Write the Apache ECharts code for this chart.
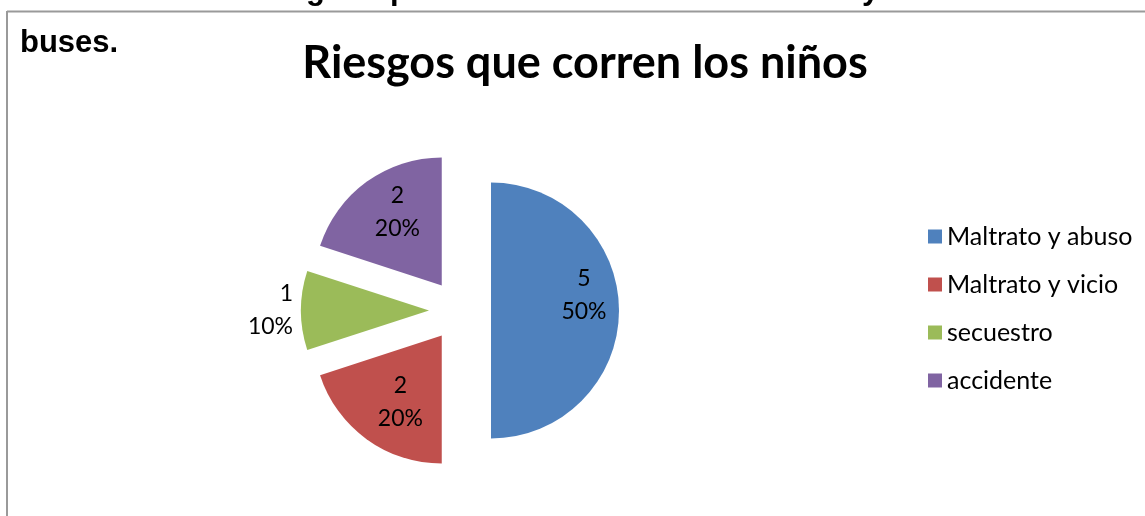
<!DOCTYPE html>
<html><head><meta charset="utf-8">
<script src="https://cdn.jsdelivr.net/npm/echarts@6/dist/echarts.min.js"></script>
<style>html,body{margin:0;padding:0;background:#fff}#c{width:1145px;height:516px}</style>
</head><body><div id="c"></div>
<script>
const categories = ['Maltrato y abuso', 'Maltrato y vicio', 'secuestro', 'accidente'];
const values = [5, 2, 1, 2];
const colors = ['#4F81BD', '#C0504D', '#9BBB59', '#8064A2'];
const titleText = 'Riesgos que corren los niños';

const total = values.reduce((a, b) => a + b, 0);
// per-slice label nudges (Excel "best fit" placement), in pixels
const labelNudge = [[26, -15], [-2, 12], [0, 0], [-5, -19]];
const data = categories.map((n, i) => ({
  name: n, value: values[i], selected: true,
  itemStyle: { color: colors[i] },
  label: i === 2 ? { position: 'outside', distanceToLabelLine: 8 } : { position: 'inside' },
  labelLine: { show: false, length: 0, length2: 0 }
}));

const chart = echarts.init(document.getElementById('c'));
const FONT = 'Lato';
chart.setOption({
  animation: false,
  title: {
    text: titleText, left: 580, top: 36, textAlign: 'center',
    textStyle: { fontFamily: FONT, fontWeight: 'bold', fontSize: 45, color: '#000' }
  },
  legend: {
    orient: 'vertical', left: 923, top: 219, icon: 'rect',
    itemWidth: 14, itemHeight: 14, itemGap: 23,
    textStyle: { fontFamily: FONT, fontSize: 25, color: '#000', lineHeight: 25 },
    data: categories
  },
  graphic: [
    { type: 'line', shape: { x1: 7, y1: 11.5, x2: 1145, y2: 11.5 }, style: { stroke: '#9a9a9a', lineWidth: 2 } },
    { type: 'line', shape: { x1: 7, y1: 11, x2: 7, y2: 516 }, style: { stroke: '#9a9a9a', lineWidth: 2 } },
    { type: 'text', left: 20, top: 28, style: { text: 'buses.', font: 'bold 31px "Liberation Sans", Arial', fill: '#000' } },
    { type: 'text', x: 306, y: 6, style: { text: 'g', font: 'bold 31px "Liberation Sans", Arial', fill: '#000', verticalAlign: 'bottom' } },
    { type: 'text', x: 390, y: 6, style: { text: 'p', font: 'bold 31px "Liberation Sans", Arial', fill: '#000', verticalAlign: 'bottom' } },
    { type: 'text', x: 862, y: 6, style: { text: 'y', font: 'bold 31px "Liberation Sans", Arial', fill: '#000', verticalAlign: 'bottom' } }
  ],
  series: [{
    type: 'pie', center: [460, 310.5], radius: [0, 128],
    startAngle: 90, clockwise: true,
    selectedMode: 'multiple', selectedOffset: 31,
    avoidLabelOverlap: false, silent: true,
    emphasis: { disabled: true, scale: false },
    label: {
      show: true, fontFamily: FONT, fontSize: 23, lineHeight: 33, color: '#000',
      formatter: p => p.value + '\n' + Math.round(p.value / total * 100) + '%'
    },
    labelLayout: p => ({ dx: labelNudge[p.dataIndex][0], dy: labelNudge[p.dataIndex][1] }),
    data: data
  }]
});
</script></body></html>
